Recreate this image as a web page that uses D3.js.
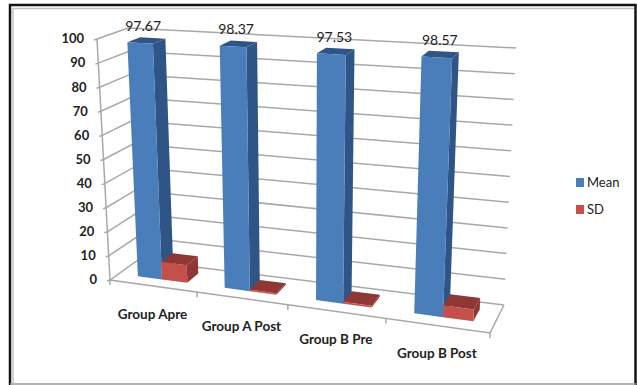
<!DOCTYPE html>
<html>
<head>
<meta charset="utf-8">
<script src="https://d3js.org/d3.v7.min.js"></script>
<style>
html,body{margin:0;padding:0;background:#fff}
svg{display:block}
text{font-family:Lato,"Open Sans",sans-serif;fill:#222}
</style>
</head>
<body>
<svg id="chart" width="637" height="385"></svg>
<script>
const categories = ["Group Apre", "Group A Post", "Group B Pre", "Group B Post"];
const meanValues = [97.67, 98.37, 97.53, 98.57];
const sdValues = [7.2, 0.6, 0.7, 4.4];
const valueTicks = [0, 10, 20, 30, 40, 50, 60, 70, 80, 90, 100];
const legendItems = ["Mean", "SD"];

const svg = d3.select("#chart");

// Box corners of the 3D plot, as pixel positions of the floor and the 100 level.
const corners = {
  floorFront: [[110, 280], [490, 333]],
  floorBack: [[138, 260], [504, 305]],
  topFront: [[97, 39], [503, 62]],
  topBack: [[128, 28], [516, 48]]
};

const mix = d3.interpolateNumber;
const lerp2 = (a, b, t) => [mix(a[0], b[0])(t), mix(a[1], b[1])(t)];

// Slot position along the category axis; slots widen toward the viewer on the right.
const uScale = d3.scaleLinear().domain([0, 1, 2, 3, 4]).range([0, 0.229, 0.468, 0.726, 1]);
const hScale = d3.scaleLinear().domain([0, 100]).range([0, 1]);
const depthScale = d3.scaleLinear().domain([0, 1]).range([0.32, 0.75]);
const seriesOffset = d3.scaleLinear().domain([0, 1, 2]).range([0.22, 0.5, 0.795]);

function project(slot, depth, value) {
  const u = uScale(slot), h = hScale(value);
  const floor = lerp2(lerp2(corners.floorFront[0], corners.floorFront[1], u),
                      lerp2(corners.floorBack[0], corners.floorBack[1], u), depth);
  const top = lerp2(lerp2(corners.topFront[0], corners.topFront[1], u),
                    lerp2(corners.topBack[0], corners.topBack[1], u), depth);
  return lerp2(floor, top, h);
}
const n = categories.length;
const line = d3.line();

// Outer frame: black on top, left and right, grey along the bottom, thin grey inner edge
const frame = svg.append("g").attr("fill", "none");
frame.append("path").attr("d", "M13,383V8.5H634").attr("stroke", "#c4c4c4").attr("stroke-width", 1.5);
frame.append("path").attr("d", "M10,385V5H635.5V385").attr("stroke", "#141414").attr("stroke-width", 2.5);
frame.append("path").attr("d", "M10,384H636").attr("stroke", "#9a9a9a").attr("stroke-width", 1.5);

// Wall gridlines
const grid = svg.append("g").attr("fill", "none").attr("stroke", "#a8a8a8").attr("stroke-width", 1.5);
valueTicks.forEach(v => {
  grid.append("path").attr("d", line([
    [project(0, 0, v)[0] - 3, project(0, 0, v)[1] + 1],
    project(0, 0, v), project(0, 1, v), project(n, 1, v)
  ]));
});
// Left axis and floor edges
grid.append("path").attr("d", line([project(0, 0, 100), project(0, 0, 0), project(n, 0, 0), project(n, 1, 0)]));
d3.range(0, n + 1).forEach(i => {
  const p = project(i, 0, 0);
  grid.append("path").attr("d", line([p, [p[0], p[1] + 5]]));
});

// Axis tick labels
svg.append("g").selectAll("text").data(valueTicks).join("text")
  .attr("x", v => project(0, 0, v)[0] - 13)
  .attr("y", v => project(0, 0, v)[1] + 1)
  .attr("text-anchor", "end").attr("dominant-baseline", "middle")
  .attr("font-size", 13).attr("font-weight", 700)
  .text(d => d);

// Cuboid faces for one bar
function drawBar(g, i, series, value, front, dark) {
  const a = i + seriesOffset(series), b = i + seriesOffset(series + 1);
  const d0 = depthScale(0), d1 = depthScale(1);
  const face = (pts, fill) => g.append("path").attr("d", line(pts) + "Z").attr("fill", fill);
  face([project(a, d0, value), project(b, d0, value), project(b, d1, value), project(a, d1, value)], dark);
  face([project(b, d0, 0), project(b, d1, 0), project(b, d1, value), project(b, d0, value)], dark);
  face([project(a, d0, 0), project(b, d0, 0), project(b, d0, value), project(a, d0, value)], front);
}

const bars = svg.append("g");
categories.forEach((c, i) => {
  drawBar(bars, i, 0, meanValues[i], "#4a7ebb", "#2f5486");
  drawBar(bars, i, 1, sdValues[i], "#c4504c", "#8f3735");
});

// Mean value labels above the bars
svg.append("g").selectAll("text").data(meanValues).join("text")
  .attr("x", (d, i) => project(i + seriesOffset(0.5), depthScale(0), d)[0] + 3)
  .attr("y", (d, i) => project(i + seriesOffset(0.5), depthScale(0), d)[1] - 12)
  .attr("text-anchor", "middle").attr("font-size", 14)
  .text(d => d.toFixed(2));

// Category labels under the front edge
svg.append("g").selectAll("text").data(categories).join("text")
  .attr("x", (d, i) => project(i + 0.5, 0, 0)[0] - 1)
  .attr("y", (d, i) => project(i + 0.5, 0, 0)[1] + 32.5)
  .attr("text-anchor", "middle").attr("font-size", 13.5).attr("font-weight", 700)
  .text(d => d);

// Legend
const legendY = d3.scalePoint().domain(legendItems).range([182.5, 209.5]);
const legendColor = d3.scaleOrdinal().domain(legendItems).range(["#4a7ebb", "#c4504c"]);
const legend = svg.append("g");
legend.selectAll("rect").data(legendItems).join("rect")
  .attr("x", 576).attr("y", d => legendY(d) - 4.5).attr("width", 8).attr("height", 9)
  .attr("fill", d => legendColor(d));
legend.selectAll("text").data(legendItems).join("text")
  .attr("x", 587).attr("y", d => legendY(d) + 1)
  .attr("dominant-baseline", "middle").attr("font-size", 13)
  .text(d => d);
</script>
</body>
</html>
